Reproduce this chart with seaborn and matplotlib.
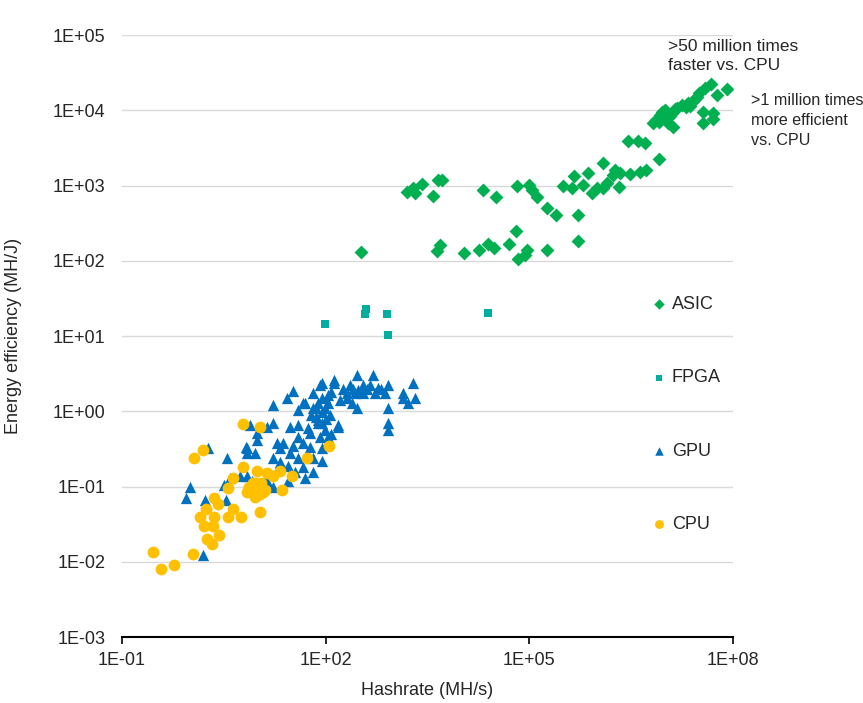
import matplotlib
matplotlib.use("Agg")
import matplotlib.pyplot as plt
from matplotlib.ticker import FixedLocator, FuncFormatter, NullLocator
import seaborn as sns
import pandas as pd

# ---------------- data ----------------
asic_hash = [330, 1600, 1950, 2100, 2600, 3800, 4500, 5200, 21000, 32000, 66000, 1.0e5, 1.1e5, 1.3e5,
             1.8e5, 2.5e5,
             4800, 4400, 11000, 18000, 25000, 30000, 51000, 63000, 68000, 87000, 92000, 1.8e5,
             5.2e5, 5.2e5, 3.1e5, 4.2e5, 4.5e5, 6.2e5, 7.3e5, 8.3e5, 1.0e6, 1.2e6, 1.2e6, 1.4e6,
             1.7e6, 1.8e6, 2.1e6, 2.2e6, 3.0e6, 4.3e6, 5.2e6, 8.1e6, 2.8e6, 4.0e6, 5.0e6, 6.6e6,
             7.3e6, 9.0e6, 1.07e7, 1.26e7, 1.3e7, 1.5e7, 1.8e7, 2.2e7, 2.5e7, 2.9e7, 3.2e7, 3.9e7,
             4.7e7, 5.8e7, 8.1e7, 3.6e7, 3.6e7, 5.0e7, 5.0e7, 8.4e6, 1.1e7,
             1.0e7, 1.4e7, 2.0e7, 1.2e7, 2.3e7, 2.7e7, 8.0e6]
asic_eff = [130, 810, 930, 790, 1050, 720, 1180, 1180, 870, 700, 980, 1020, 870, 700,
            500, 400,
            162, 135, 126, 138, 167, 148, 167, 250, 105, 120, 138, 138,
            400, 183, 980, 930, 1340, 1020, 1470, 790, 930, 2000, 930, 1080,
            1380, 1600, 950, 1470, 1420, 1500, 1600, 2240, 3900, 3900, 3650, 6800,
            7400, 9500, 7900, 9200, 6000, 10700, 11700, 12500, 12900, 15000, 17000, 19800,
            22300, 16000, 19000, 9500, 6800, 9200, 7600, 8700, 6800,
            10000, 10500, 11000, 8500, 11500, 13500, 7000]

fpga_hash = [98, 390, 380, 800, 830, 25000]
fpga_eff = [14.4, 23, 19.5, 19.5, 10.3, 20]

gpu_hash = [7.7, 13.7, 9.7, 9.7, 6.7, 9.1, 6.9, 1.85, 3.5, 1.0, 0.88, 1.66, 3.4, 1.56, 3.2, 3.9, 5.5,
            6.9, 12.8,
            33, 27, 83, 133, 16.7, 50, 39, 65, 89, 108, 205, 162, 245, 72, 89, 16.7, 6.9, 30, 39,
            77, 98, 151, 59, 39, 83, 108, 19, 23.5, 21, 33, 46, 59, 89, 16.7, 30, 39, 65, 89, 21,
            28, 46, 19, 35, 65, 28, 50, 16.7, 13.7, 8.2,
            290, 500, 133, 89, 228, 355, 450, 590, 830, 270, 355, 535, 745, 205, 290, 108, 1940,
            1380, 1380, 1620, 2080, 830, 830, 830, 46, 65, 77, 72, 98, 116, 151, 89, 77,
            180, 250, 400, 650, 300, 120, 60, 100, 55, 120]
gpu_eff = [0.66, 0.62, 0.51, 0.41, 0.34, 0.28, 0.28, 0.32, 0.24, 0.098, 0.071, 0.066, 0.066, 0.0123,
           0.105, 0.13, 0.14, 0.14, 0.12,
           1.86, 1.5, 2.24, 2.4, 1.2, 1.29, 1.04, 1.1, 1.5, 1.29, 1.74, 1.41, 1.29, 0.83, 0.98,
           0.69, 0.32, 0.62, 0.66, 0.69, 0.56, 0.62, 0.51, 0.45, 0.45, 0.45, 0.38, 0.38, 0.32,
           0.35, 0.38, 0.34, 0.32, 0.24, 0.28, 0.24, 0.24, 0.22, 0.21, 0.19, 0.18, 0.165, 0.155,
           0.155, 0.12, 0.13, 0.098, 0.12, 0.12,
           3.0, 3.0, 2.6, 2.4, 2.24, 2.24, 2.24, 2.04, 2.24, 1.74, 1.74, 1.74, 1.74, 1.5, 1.1,
           1.65, 2.4, 1.74, 1.5, 1.29, 1.5, 1.1, 0.69, 0.56, 1.29, 1.74, 1.29, 1.1, 1.1, 0.89,
           0.66, 0.69, 0.76,
           2.0, 2.0, 2.0, 2.0, 1.9, 1.8, 0.9, 0.8, 0.6, 0.5]

cpu_hash = [6.0, 10.7, 1.56, 1.15, 112, 53, 32, 21, 6.0, 9.7, 13.6, 16.7, 4.3, 3.6, 23, 8.2, 9.7,
            6.9, 9.1, 10.7, 12.8, 7.5, 8.5, 11, 2.3, 2.6, 1.73, 4.3, 10.7, 1.4, 2.3, 3.6, 5.7,
            1.6, 2.2, 2.7, 1.78, 2.1, 0.29, 1.1, 0.58, 0.37,
            7.5, 8.2, 10, 11.5, 9, 12]
cpu_eff = [0.68, 0.62, 0.31, 0.24, 0.35, 0.24, 0.14, 0.16, 0.18, 0.16, 0.15, 0.14, 0.13, 0.095,
           0.089, 0.105, 0.089, 0.085, 0.072, 0.08, 0.09, 0.1, 0.11, 0.11, 0.07, 0.059, 0.05,
           0.05, 0.046, 0.039, 0.039, 0.039, 0.039, 0.03, 0.03, 0.023, 0.02, 0.017, 0.0135,
           0.0126, 0.0091, 0.008,
           0.095, 0.09, 0.1, 0.095, 0.11, 0.085]

categories = ["ASIC", "FPGA", "GPU", "CPU"]
colors = {"ASIC": "#00B050", "FPGA": "#00ADA0", "GPU": "#0070C0", "CPU": "#FFC000"}
markers = {"ASIC": "D", "FPGA": "s", "GPU": "^", "CPU": "o"}
msizes = {"ASIC": 50, "FPGA": 36, "GPU": 66, "CPU": 72}

series = {
    "ASIC": (asic_hash, asic_eff),
    "FPGA": (fpga_hash, fpga_eff),
    "GPU": (gpu_hash, gpu_eff),
    "CPU": (cpu_hash, cpu_eff),
}

# ---------------- plot ----------------
sns.set_theme(style="white")
plt.rcParams["font.family"] = ["Liberation Sans", "DejaVu Sans"]

fig = plt.figure(figsize=(8.63, 7.03), dpi=100)
ax = fig.add_axes([122 / 863, 1 - 637 / 703, (733 - 122) / 863, (637 - 35) / 703])

for cat in categories:
    hx, ey = series[cat]
    df = pd.DataFrame({"hash": hx, "eff": ey})
    sns.scatterplot(data=df, x="hash", y="eff", ax=ax, color=colors[cat], marker=markers[cat],
                    s=msizes[cat], linewidth=0, label=cat, zorder=3)

ax.set_xscale("log")
ax.set_yscale("log")
ax.set_xlim(1e-1, 1e8)
ax.set_ylim(1e-3, 1e5)

fmt = FuncFormatter(lambda v, p: f"{v:.0E}")
ax.xaxis.set_major_locator(FixedLocator([1e-1, 1e2, 1e5, 1e8]))
ax.yaxis.set_major_locator(FixedLocator([10.0 ** k for k in range(-3, 6)]))
ax.xaxis.set_minor_locator(NullLocator())
ax.yaxis.set_minor_locator(NullLocator())
ax.xaxis.set_major_formatter(fmt)
ax.yaxis.set_major_formatter(fmt)

ax.grid(axis="y", color="#D9D9D9", linewidth=1.0, zorder=0)
ax.grid(axis="x", visible=False)
ax.set_axisbelow(True)

for side in ["left", "right", "top"]:
    ax.spines[side].set_visible(False)
ax.spines["bottom"].set_color("black")
ax.spines["bottom"].set_linewidth(1.5)
ax.spines["bottom"].set_zorder(4)

ax.tick_params(axis="x", which="major", direction="out", length=5, width=1.2, color="black",
               labelsize=13, pad=6, bottom=True)
ax.tick_params(axis="y", which="major", length=0, labelsize=13, pad=12)

ax.set_xlabel("Hashrate (MH/s)", fontsize=13, labelpad=9)
ax.set_ylabel("Energy efficiency (MH/J)", fontsize=13, labelpad=22)

# legend
handles, labels = ax.get_legend_handles_labels()
order = [labels.index(c) for c in categories]
leg = ax.legend([handles[i] for i in order], [labels[i] for i in order],
                loc="upper left", bbox_to_anchor=(652 / 863, 1 - 296 / 703),
                bbox_transform=fig.transFigure, frameon=False, fontsize=13,
                labelspacing=3.12, handlelength=0.8, handletextpad=0.3,
                borderpad=0, borderaxespad=0, markerscale=0.75)

fig.text(668 / 863, 1 - 39 / 703, ">50 million times\nfaster vs. CPU", fontsize=12.5,
         ha="left", va="top", linespacing=1.32)
fig.text(751 / 863, 1 - 93 / 703, ">1 million times\nmore efficient\nvs. CPU", fontsize=11.6,
         ha="left", va="top", linespacing=1.42)

fig.savefig("out.png", dpi=100)
